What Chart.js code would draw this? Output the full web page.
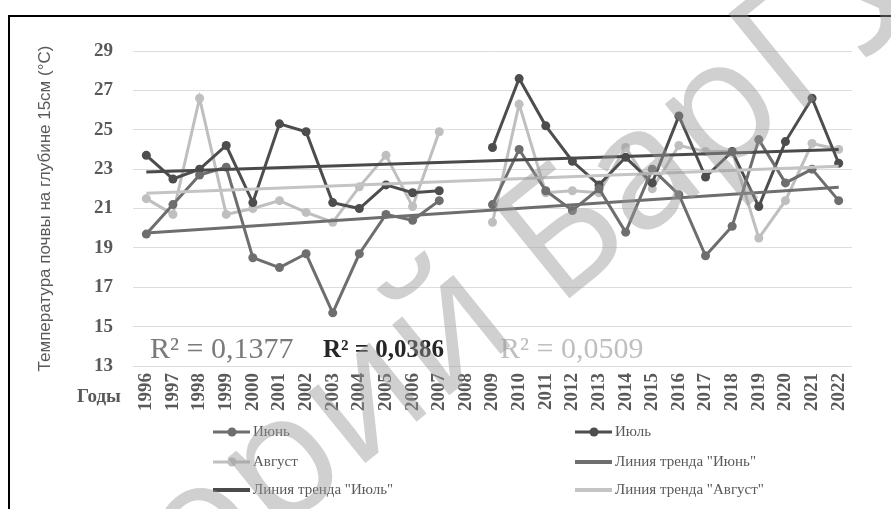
<!DOCTYPE html>
<html>
<head>
<meta charset="utf-8">
<script src="https://cdn.jsdelivr.net/npm/chart.js@4"></script>
<style>
  html, body { margin:0; padding:0; background:#fff; }
  #wrap { width:891px; height:509px; position:relative; }
</style>
</head>
<body>
<div id="wrap"><canvas id="soilChart" width="891" height="509"></canvas></div>
<script>
// годы (2008 без данных)
const years = ['1996','1997','1998','1999','2000','2001','2002','2003','2004','2005','2006','2007','2008',
               '2009','2010','2011','2012','2013','2014','2015','2016','2017','2018','2019','2020','2021','2022'];

const june   = [19.7,21.2,22.7,23.1,18.5,18.0,18.7,15.7,18.7,20.7,20.4,21.4,null,
                21.2,24.0,21.9,20.9,22.0,19.8,23.0,21.7,18.6,20.1,24.5,22.3,23.0,21.4];
const july   = [23.7,22.5,23.0,24.2,21.3,25.3,24.9,21.3,21.0,22.2,21.8,21.9,null,
                24.1,27.6,25.2,23.4,22.2,23.6,22.3,25.7,22.6,23.9,21.1,24.4,26.6,23.3];
const august = [21.5,20.7,26.6,20.7,21.0,21.4,20.8,20.3,22.1,23.7,21.1,24.9,null,
                20.3,26.3,21.8,21.9,21.8,24.1,22.0,24.2,23.9,23.9,19.5,21.4,24.3,24.0];

// концы линий тренда
const trendJune   = [19.75, 22.08];
const trendJuly   = [22.86, 24.0];
const trendAugust = [21.78, 23.14];

const r2Labels = ['R² = 0,1377', 'R² = 0,0386', 'R² = 0,0509'];

const cJune = '#6e6e6e', cJuly = '#4d4d4d', cAug = '#bfbfbf';

function trendData(ends){
    const arr = years.map(()=>null);
    arr[0] = ends[0];
    arr[arr.length-1] = ends[1];
    return arr;
}

function seriesDs(label, data, color){
    return { label: label, data: data, borderColor: color, backgroundColor: color,
             borderWidth: 3, pointRadius: 4.5, pointBorderWidth: 0, pointHoverRadius: 4.5,
             spanGaps: false, order: 1, tension: 0 };
}
function trendDs(label, ends, color){
    return { label: label, data: trendData(ends), borderColor: color, backgroundColor: color,
             borderWidth: 3, pointRadius: 0, spanGaps: true, order: 0, isTrend: true };
}

const serif = 'Liberation Serif';
const gray = '#595959';

// рамка, подписи R², легенда, "Годы", водяной знак
const extras = {
    id: 'extras',
    beforeDraw(chart){
        const ctx = chart.ctx;
        ctx.save();
        ctx.fillStyle = '#fff';
        ctx.fillRect(0,0,chart.width,chart.height);
        ctx.strokeStyle = '#000';
        ctx.lineWidth = 2;
        ctx.beginPath();
        ctx.moveTo(9, chart.height);
        ctx.lineTo(9, 16);
        ctx.lineTo(chart.width, 16);
        ctx.stroke();
        ctx.restore();
    },
    afterDraw(chart){
        const ctx = chart.ctx;
        ctx.save();
        // R²
        ctx.textBaseline = 'alphabetic';
        ctx.textAlign = 'left';
        ctx.font = '30px "' + serif + '"';
        ctx.fillStyle = '#7a7a7a';
        ctx.fillText(r2Labels[0], 150, 358);
        ctx.font = 'bold 25px "' + serif + '"';
        ctx.fillStyle = '#262626';
        ctx.fillText(r2Labels[1], 323, 357);
        ctx.font = '30px "' + serif + '"';
        ctx.fillStyle = '#bfbfbf';
        ctx.fillText(r2Labels[2], 500, 358);

        // Годы
        ctx.font = 'bold 19px "' + serif + '"';
        ctx.fillStyle = gray;
        ctx.textAlign = 'center';
        ctx.textBaseline = 'middle';
        ctx.fillText('Годы', 99, 397);

        // легенда 2 колонки
        const pos = [[213,432],[575,432],[213,462],[575,462],[213,490],[575,490]];
        ctx.font = '15px "' + serif + '"';
        ctx.textAlign = 'left';
        chart.data.datasets.forEach((ds, k)=>{
            const [x,y] = pos[k];
            ctx.strokeStyle = ds.borderColor;
            ctx.lineWidth = ds.isTrend ? 4 : 3;
            ctx.beginPath();
            ctx.moveTo(x, y); ctx.lineTo(x+37, y);
            ctx.stroke();
            if(!ds.isTrend){
                ctx.fillStyle = ds.borderColor;
                ctx.beginPath();
                ctx.arc(x+19, y, 4.5, 0, Math.PI*2);
                ctx.fill();
            }
            ctx.fillStyle = gray;
            ctx.fillText(ds.label, x+40, y);
        });

        // водяной знак
        ctx.translate(526, 271);
        ctx.rotate(-0.68);
        ctx.font = '170px "Open Sans"';
        ctx.textAlign = 'left';
        ctx.textBaseline = 'middle';
        ctx.fillStyle = 'rgba(150,150,150,0.45)';
        const pre = ctx.measureText('Репозиторий ').width;
        ctx.fillText('Репозиторий БарГУ', -pre, 0);
        ctx.restore();
    }
};

document.addEventListener('DOMContentLoaded', function(){
    const ctx = document.getElementById('soilChart').getContext('2d');
    new Chart(ctx, {
        type: 'line',
        data: {
            labels: years,
            datasets: [
                seriesDs('Июнь', june, cJune),
                seriesDs('Июль', july, cJuly),
                seriesDs('Август', august, cAug),
                trendDs('Линия тренда "Июнь"', trendJune, cJune),
                trendDs('Линия тренда "Июль"', trendJuly, '#4a4a4a'),
                trendDs('Линия тренда "Август"', trendAugust, '#c4c4c4')
            ]
        },
        options: {
            responsive: false,
            animation: false,
            layout: { padding: { top: 51, right: 39, bottom: 91, left: 0 } },
            plugins: { legend: { display: false }, tooltip: { enabled: false } },
            scales: {
                x: {
                    offset: true,
                    grid: { display: false, drawTicks: false },
                    border: { display: false },
                    ticks: { autoSkip: false, minRotation: 90, maxRotation: 90, padding: 7,
                             color: gray, font: { family: serif, size: 19, weight: 'bold' } },
                    afterFit: s => { s.height = 52; }
                },
                y: {
                    min: 13, max: 29,
                    grid: { color: '#dcdcdc', lineWidth: 1, drawTicks: false },
                    border: { display: false },
                    ticks: { stepSize: 2, padding: 20, color: gray,
                             font: { family: serif, size: 19, weight: 'bold' } },
                    title: { display: true, text: 'Температура почвы на глубине 15см (°С)',
                             color: gray, font: { family: 'Liberation Sans', size: 17 },
                             padding: { top: 35, bottom: 0 } },
                    afterFit: s => { s.width = 133; }
                }
            }
        },
        plugins: [extras]
    });
});
</script>
</body>
</html>
